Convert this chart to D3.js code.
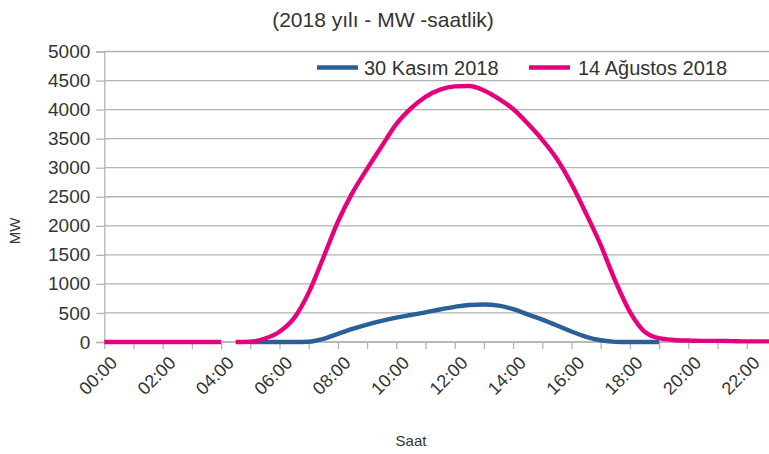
<!DOCTYPE html>
<html>
<head>
<meta charset="utf-8">
<script src="https://cdn.jsdelivr.net/npm/d3@7"></script>
<style>
  html, body { margin: 0; padding: 0; background: #fff; }
  svg { display: block; font-family: "Liberation Sans", Arial, sans-serif; }
</style>
</head>
<body>
<svg id="chart" width="769" height="454"></svg>
<script>
// ---- data ----
const title = "(2018 yılı - MW -saatlik)";
const yTitle = "MW";
const xTitle = "Saat";
const seriesNames = ["30 Kasım 2018", "14 Ağustos 2018"];
const hours = [0,0.5,1,1.5,2,2.5,3,3.5,4,4.25,4.5,5,5.5,6,6.5,7,7.5,8,8.5,9,9.5,10,10.5,11,11.5,12,12.5,13,13.5,14,14.5,15,15.5,16,16.5,17,17.5,18,18.5,19,19.5,20,20.5,21,21.5,22,22.5,23,23.5];
const kasim = [null,null,null,null,null,null,null,null,null,null,null,0,0,0,0,5,55,140,225,300,365,420,465,510,560,605,638,645,625,565,475,385,285,180,90,30,3,0,0,0,null,null,null,null,null,null,null,null,null];
const agustos = [0,0,0,0,0,0,0,0,0,null,0,5,60,177,410,850,1450,2070,2570,2980,3370,3750,4020,4220,4345,4400,4405,4330,4190,4010,3760,3480,3150,2720,2210,1670,1050,520,180,65,35,25,20,20,15,10,10,10,10];
const yTicks = [0,500,1000,1500,2000,2500,3000,3500,4000,4500,5000];
const xTickHours = d3.range(0, 24, 1);
const xLabelHours = [0,2,4,6,8,10,12,14,16,18,20,22];
const xLabels = ["00:00","02:00","04:00","06:00","08:00","10:00","12:00","14:00","16:00","18:00","20:00","22:00"];
const colors = ["#2a6099", "#e6007e"];

// ---- layout ----
const svg = d3.select("#chart");
const x = d3.scaleLinear().domain([0, 24]).range([104.3, 805.1]);
const y = d3.scaleLinear().domain([0, 5000]).range([342, 51.5]);
const gridColor = "#b3b3b3";
const textColor = "#333";

// gridlines
svg.append("g").selectAll("line").data(yTicks).join("line")
  .attr("x1", x(0)).attr("x2", 769)
  .attr("y1", d => y(d)).attr("y2", d => y(d))
  .attr("stroke", gridColor).attr("stroke-width", 1.3);

// y axis
const yAxis = svg.append("g").attr("transform", `translate(${x(0)},0)`)
  .call(d3.axisLeft(y).tickValues(yTicks).tickSize(8).tickPadding(6).tickFormat(d3.format("d")));
yAxis.select(".domain").attr("stroke", gridColor).attr("stroke-width", 1.3);
yAxis.selectAll(".tick line").attr("stroke", gridColor).attr("stroke-width", 1.3);
yAxis.selectAll("text").attr("font-size", 19).attr("fill", textColor)
  .attr("font-family", "Liberation Sans, Arial, sans-serif");

// x axis
const xAxis = svg.append("g").attr("transform", `translate(0,${y(0)})`)
  .call(d3.axisBottom(x).tickValues(xTickHours).tickSize(7).tickFormat(""));
xAxis.select(".domain").remove();
xAxis.selectAll(".tick line").attr("stroke", gridColor).attr("stroke-width", 1.3);
svg.append("line").attr("x1", x(0)).attr("x2", 769).attr("y1", y(0)).attr("y2", y(0))
  .attr("stroke", gridColor).attr("stroke-width", 1.3);

svg.append("g").selectAll("text").data(xLabelHours).join("text")
  .attr("transform", d => `translate(${x(d) + 5},${y(0) + 13}) rotate(-45)`)
  .attr("text-anchor", "end")
  .attr("dy", "0.71em")
  .attr("font-size", 18)
  .attr("fill", textColor)
  .text((d, i) => xLabels[i]);

// lines
const line = d3.line()
  .defined(d => d[1] !== null)
  .x(d => x(d[0])).y(d => y(d[1]))
  .curve(d3.curveMonotoneX);
[kasim, agustos].forEach((vals, i) => {
  svg.append("path")
    .datum(hours.map((h, j) => [h, vals[j]]))
    .attr("fill", "none")
    .attr("stroke", colors[i])
    .attr("stroke-width", 4.4)
    .attr("stroke-linejoin", "round")
    .attr("d", line);
});

// title
svg.append("text").attr("x", 383).attr("y", 27).attr("text-anchor", "middle")
  .attr("font-size", 21).attr("fill", textColor).text(title);

// axis titles
svg.append("text").attr("transform", "translate(20,231) rotate(-90)")
  .attr("text-anchor", "middle").attr("font-size", 15).attr("fill", textColor).text(yTitle);
svg.append("text").attr("x", 411).attr("y", 446).attr("text-anchor", "middle")
  .attr("font-size", 15).attr("fill", textColor).text(xTitle);

// legend
const legendItems = [
  { name: seriesNames[0], color: colors[0], x1: 317, x2: 358, tx: 364 },
  { name: seriesNames[1], color: colors[1], x1: 529, x2: 570, tx: 578 }
];
const lg = svg.append("g");
legendItems.forEach(it => {
  lg.append("line").attr("x1", it.x1).attr("x2", it.x2).attr("y1", 67.5).attr("y2", 67.5)
    .attr("stroke", it.color).attr("stroke-width", 4.4);
  lg.append("text").attr("x", it.tx).attr("y", 74.5).attr("font-size", 20)
    .attr("fill", textColor).text(it.name);
});
</script>
</body>
</html>
